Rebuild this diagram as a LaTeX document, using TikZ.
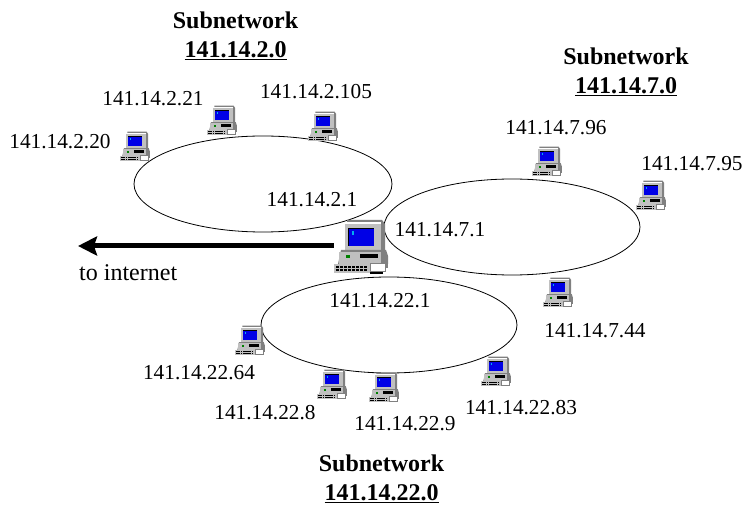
\documentclass[tikz,border=0pt]{standalone}
\usepackage{fontspec}
\setmainfont{Liberation Serif}
\usetikzlibrary{arrows.meta,positioning,shapes.geometric}
\definecolor{pcgray}{RGB}{192,192,192}
\definecolor{pcdark}{RGB}{128,128,128}
\definecolor{pcblue}{RGB}{0,0,230}

\begin{document}
\begin{tikzpicture}[
        x=1pt, y=-1pt,
        font=\fontsize{21.3pt}{24pt}\selectfont,
        subnet/.style={
            draw,
            ellipse,
            minimum width=256pt,
            minimum height=96pt,
            inner sep=0pt,
            line width=0.8pt
        },
        addr/.style={
            inner sep=0pt
        },
        heading/.style={
            align=center,
            inner sep=0pt,
            font=\fontsize{24pt}{29pt}\selectfont\bfseries
        },
        pcbox/.style={
            inner sep=0pt,
            minimum width=30pt,
            minimum height=30pt
        },
        serverbox/.style={
            inner sep=0pt,
            minimum width=54pt,
            minimum height=54pt
        },
        arrow/.style={-{Stealth[length=19pt,width=19pt,inset=3pt]}, line width=5pt},
        pc/.pic={
            % monitor
            \fill[pcdark] (-14,-26) -- (21,-26) -- (24,-22) -- (24,4) -- (-14,4) -- cycle;
            \fill[pcgray] (-16,-24) rectangle (20,4);
            \fill[white] (-16,-24) rectangle (20,-22);
            \fill[black] (-13,-18) rectangle (13,0);
            \fill[pcblue] (-12,-17) rectangle (13,0);
            \fill[cyan] (-9,-15) rectangle (-7,-11);
            % base
            \fill[pcdark] (-20,4) -- (25,4) -- (27,10) -- (27,18) -- (-23,18) -- cycle;
            \fill[pcgray] (-22,6) rectangle (20,18);
            \fill[green!50!black] (-15,9) rectangle (-11,12);
            \fill[black] (-1,8) rectangle (17,12);
            % keyboard
            \fill[pcgray] (-27,18) rectangle (9,27);
            \foreach \keyx in {-25,-21,...,5} {
                \fill[black] (\keyx,20) rectangle ++(3,2);
                \fill[black] (\keyx,23) rectangle ++(3,2);
            }
            % mouse
            \fill[black] (9,25) rectangle (22,28);
            \fill[white] (9,17) rectangle (24,25);
            \draw[pcdark] (9,17) rectangle (24,25);
            \fill[pcdark] (24,14) rectangle (27,22);
        }
    ]
        \useasboundingbox (0,0) rectangle (753,513);

        \node[subnet, minimum width=258pt] (netleft) at (263,184) {};
        \node[subnet] (netright) at (512,227) {};
        \node[subnet] (netbottom) at (389,325) {};

        \node[heading] (headleft) at (235.5,36) {Subnetwork\\\underline{141.14.2.0}};
        \node[heading] (headright) at (626,72) {Subnetwork\\\underline{141.14.7.0}};
        \node[heading] (headbottom) at (381.5,479) {Subnetwork\\\underline{141.14.22.0}};

        \foreach \name/\px/\py in {a/135/146,b/222/120,c/323/126,d/547/161,e/651/195,f/558/292,g/250/340,h/332/384,i/384/387,j/496/371} {
            \node[pcbox] (pc\name) at (\px,\py) {};
            \pic[scale=0.55] at (\px,\py) {pc};
        }

        \node[serverbox] (server) at (361,246) {};
        \pic at (361,246) {pc};

        \coordinate (internet) at (78,246);
        \draw[arrow] (server.west) -- (internet);
        \node[addr, font=\fontsize{24pt}{28pt}\selectfont, below right=18pt and 1pt of internet] (tolabel) {to internet};

        \node[addr] (a20) at (60,142) {141.14.2.20};
        \node[addr] (a21) at (153,99) {141.14.2.21};
        \node[addr] (a105) at (316,92) {141.14.2.105};
        \node[addr] (a1) at (312,200) {141.14.2.1};
        \node[addr] (b96) at (556,128) {141.14.7.96};
        \node[addr] (b95) at (692,164) {141.14.7.95};
        \node[addr] (b1) at (440,230) {141.14.7.1};
        \node[addr] (b44) at (595,331) {141.14.7.44};
        \node[addr] (c1) at (380,301) {141.14.22.1};
        \node[addr] (c64) at (199,373) {141.14.22.64};
        \node[addr] (c8) at (265,413) {141.14.22.8};
        \node[addr] (c9) at (405,424) {141.14.22.9};
        \node[addr] (c83) at (521,408) {141.14.22.83};
    \end{tikzpicture}
\end{document}
